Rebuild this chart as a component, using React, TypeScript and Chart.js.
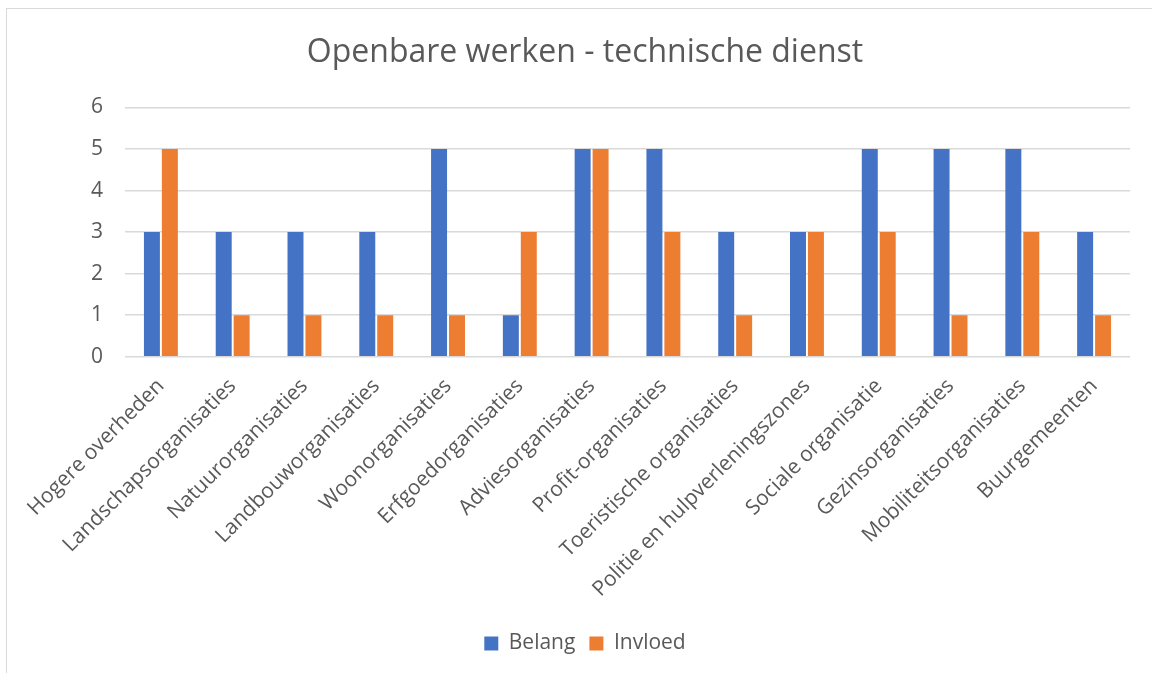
import React, { useEffect, useRef } from "react";
import { Chart, registerables } from "chart.js";

Chart.register(...registerables);

const categories = [
  "Hogere overheden",
  "Landschapsorganisaties",
  "Natuurorganisaties",
  "Landbouworganisaties",
  "Woonorganisaties",
  "Erfgoedorganisaties",
  "Adviesorganisaties",
  "Profit-organisaties",
  "Toeristische organisaties",
  "Politie en hulpverleningszones",
  "Sociale organisatie",
  "Gezinsorganisaties",
  "Mobiliteitsorganisaties",
  "Buurgemeenten",
];
const belang = [3, 3, 3, 3, 5, 1, 5, 5, 3, 3, 5, 5, 5, 3];
const invloed = [5, 1, 1, 1, 1, 3, 5, 3, 1, 3, 3, 1, 3, 1];
const title = "Openbare werken - technische dienst";
const FONT = "'Open Sans', 'Noto Sans', sans-serif";
const TEXT = "#595959";

export default function App() {
  const ref = useRef<HTMLCanvasElement | null>(null);
  useEffect(() => {
    if (!ref.current) return;
    const chart = new Chart(ref.current, {
      type: "bar",
      data: {
        labels: categories,
        datasets: [
          {
            label: "Belang",
            data: belang,
            backgroundColor: "#4472C4",
            categoryPercentage: 0.5,
            barPercentage: 0.89,
          },
          {
            label: "Invloed",
            data: invloed,
            backgroundColor: "#ED7D31",
            categoryPercentage: 0.5,
            barPercentage: 0.89,
          },
        ],
      },
      options: {
        animation: false,
        responsive: false,
        maintainAspectRatio: false,
        layout: { padding: { left: 33, right: 29, top: 0, bottom: 9 } },
        plugins: {
          title: {
            display: true,
            text: title,
            color: TEXT,
            font: { family: FONT, size: 32, weight: "normal" },
            padding: { top: 26, bottom: 35 },
          },
          legend: {
            position: "bottom",
            labels: {
              color: TEXT,
              font: { family: FONT, size: 21 },
              boxWidth: 14,
              boxHeight: 14,
              padding: 14,
            },
          },
          tooltip: { enabled: false },
        },
        scales: {
          x: {
            grid: { display: false, drawTicks: false },
            border: { display: false },
            ticks: {
              color: TEXT,
              font: { family: FONT, size: 21 },
              maxRotation: 45,
              minRotation: 45,
              autoSkip: false,
              padding: 17,
            },
            afterFit: (scale: any) => {
              scale.paddingLeft = 0;
              scale.paddingRight = 0;
            },
          },
          y: {
            min: 0,
            max: 6,
            grid: { color: "#d9d9d9", lineWidth: 1.5, drawTicks: false },
            border: { display: false },
            ticks: {
              stepSize: 1,
              color: TEXT,
              font: { family: FONT, size: 21 },
              padding: 22,
            },
            afterFit: (scale: any) => {
              scale.width = 85;
            },
          },
        },
      },
    });
    return () => chart.destroy();
  }, []);
  return (
    <div style={{ position: "fixed", inset: 0, overflow: "hidden", background: "#fff" }}>
      <div
        style={{
          position: "absolute",
          left: 6,
          top: 8,
          width: 1160,
          height: 680,
          border: "1.5px solid #d9d9d9",
          boxSizing: "border-box",
        }}
      />
      <canvas
        ref={ref}
        width={1152}
        height={665}
        style={{ position: "absolute", left: 7, top: 8, width: 1152, height: 665 }}
      />
    </div>
  );
}
